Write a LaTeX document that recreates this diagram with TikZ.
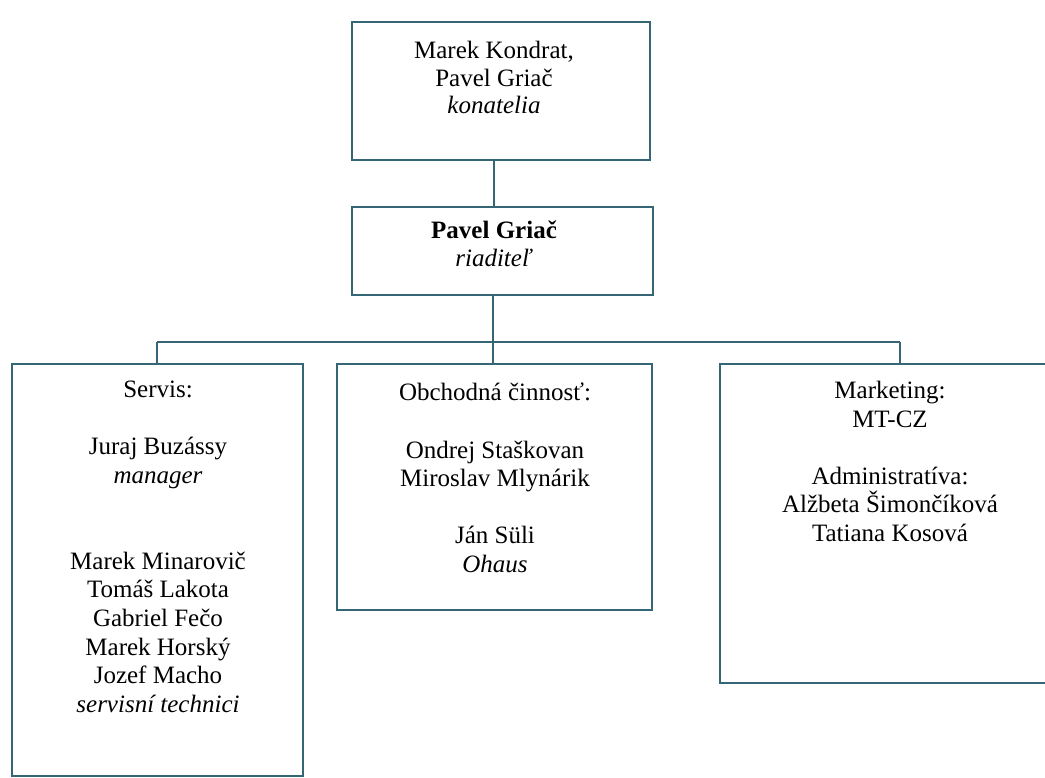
\documentclass[tikz,border=0pt]{standalone}
\usepackage{fontspec}
\setmainfont{Liberation Serif}
\definecolor{linec}{RGB}{52,102,118}
\begin{document}
\begin{tikzpicture}[x=1pt,y=-1pt,
  box/.style={draw=linec,line width=1.8pt,rectangle,inner sep=0pt,outer sep=0pt,anchor=north west},
  conn/.style={draw=linec,line width=1.8pt},
  txt/.style={anchor=north,inner sep=0pt,align=center,font=\fontsize{25}{28.6}\selectfont}]
\useasboundingbox (0,0) rectangle (1045,778);
% boxes
\node[box,minimum width=298pt,minimum height=138pt] (k) at (352,22) {};
\node[box,minimum width=301pt,minimum height=88pt] (r) at (352,207) {};
\node[box,minimum width=291pt,minimum height=412pt] (s) at (12,364) {};
\node[box,minimum width=315pt,minimum height=246pt] (o) at (337,364) {};
\node[box,minimum width=340pt,minimum height=319pt] (m) at (720,364) {};
% connector coordinates
\coordinate (jx) at (494,0);
\coordinate (bus) at (493,342);
\coordinate (bl) at (157,342);
\coordinate (br) at (900,342);
\draw[conn] (jx |- k.south) -- (jx |- r.north);
\draw[conn] (bus |- r.south) -- (bus);
\draw[conn] (bl) -- (br);
\draw[conn] (bl) -- (bl |- s.north);
\draw[conn] (bus) -- (bus |- o.north);
\draw[conn] (br) -- (br |- m.north);
% texts
\node[txt,font=\fontsize{25}{27.5}\selectfont] (kt) at (494,41) {Marek Kondrat,\\ Pavel Griač\\ \textit{konatelia}};
\node[txt,font=\fontsize{25}{28}\selectfont] (rt) at (494,221) {\textbf{Pavel Griač}\\ \textit{riaditeľ}};
\node[txt] (st) at (158,381) {Servis:\\[28.6pt] Juraj Buzássy\\ \textit{manager}\\[57.2pt] Marek Minarovič\\ Tomáš Lakota\\ Gabriel Fečo\\ Marek Horský\\ Jozef Macho\\ \textit{servisní technici}};
\node[txt] (ot) at (495,383) {Obchodná činnosť:\\[28.6pt] Ondrej Staškovan\\ Miroslav Mlynárik\\[28.6pt] Ján Süli\\ \textit{Ohaus}};
\node[txt] (mt) at (890,381) {Marketing:\\ MT-CZ\\[28.6pt] Administratíva:\\ Alžbeta Šimončíková\\ Tatiana Kosová};
\end{tikzpicture}
\end{document}
